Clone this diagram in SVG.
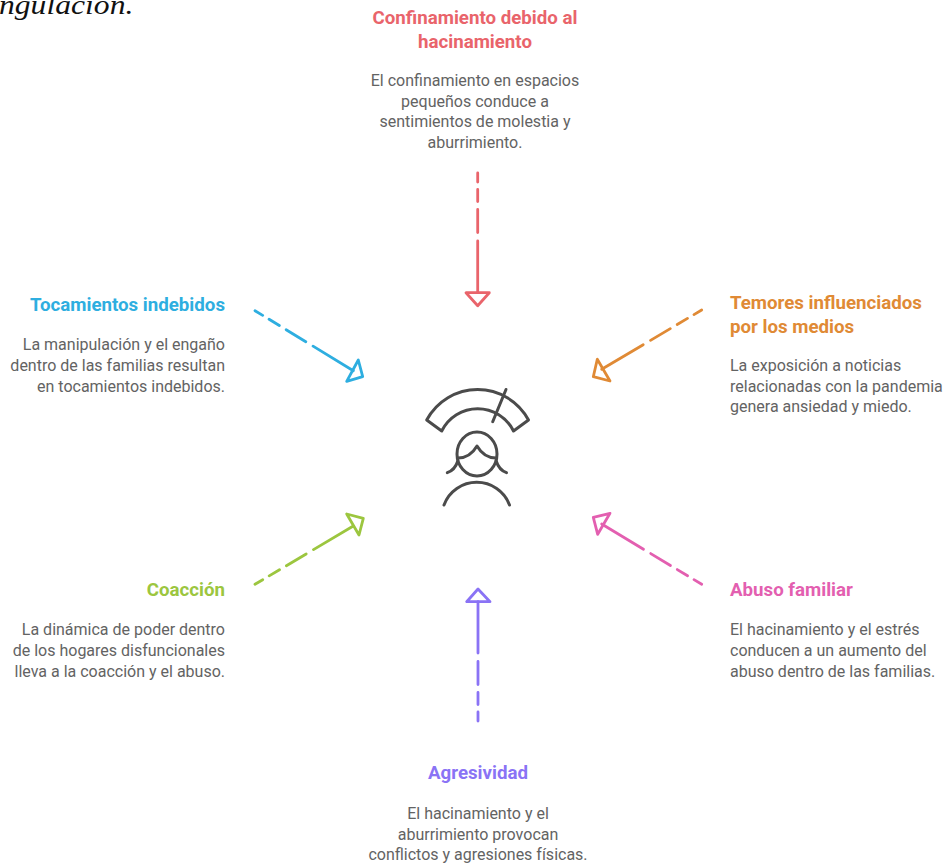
<svg xmlns="http://www.w3.org/2000/svg" width="943" height="864" viewBox="0 0 943 864">
<style>
text{font-family:Roboto,"Liberation Sans",sans-serif}
.t{font-size:18.7px;font-weight:700}
.b{font-size:16px;fill:#636363}
.m{text-anchor:middle}.e{text-anchor:end}
.c{fill:none;stroke-width:2.8;stroke-linecap:round;stroke-linejoin:round}
.d{stroke-dasharray:9 7.5 12 8 23 8.5 300}
.i{fill:none;stroke:#4b4b4b;stroke-width:3;stroke-linecap:round;stroke-linejoin:round}
</style>
<rect width="943" height="864" fill="#fff"/>
<text transform="translate(-1 14) scale(1.15 1)" x="0" y="0" style="font-family:'Liberation Serif',serif;font-style:italic;font-size:27.5px" fill="#111">ngulación.</text>
<g id="connectors">
<g stroke="#e9646b" class="c"><path class="d" d="M477.7 173V292.7"/><path d="M466 292.7H489.3L477.7 305.7Z"/></g>
<g stroke="#2eaee0" class="c"><path class="d" d="M255 310.7L353.3 370.7"/><path d="M358.3 360L362.7 376.7L346.7 381.3Z"/></g>
<g stroke="#e08a35" class="c"><path class="d" d="M701.7 310L601.7 369.3"/><path d="M597.3 359.3L593.3 376.7L610 381Z"/></g>
<g stroke="#9cc63f" class="c"><path class="d" d="M255 584.3L353.3 526"/><path d="M346.7 514L363.3 518.3L359 535Z"/></g>
<g stroke="#e35fb0" class="c"><path class="d" d="M701.7 584.3L601.7 524"/><path d="M610 513.3L593.3 517.3L597.7 534.3Z"/></g>
<g stroke="#8a73f5" class="c"><path class="d" d="M478 721V601.7"/><path d="M466.7 601.7H490L478 589Z"/></g>
</g>
<g id="icon" class="i">
<path d="M426.7 420A57.7 57.7 0 0 1 528.5 420L513.5 431A40 40 0 0 0 441.7 431Z"/>
<path d="M506 389.5L492.7 421.7"/>
<ellipse cx="477" cy="454" rx="20" ry="22"/>
<path d="M458 458Q470 458 477 446Q484 458 496 458"/>
<path d="M447.3 472.7Q455 470 457.8 461M506.5 472.7Q499 470 496.2 461"/>
<path d="M444 505A35 35 0 0 1 509.5 505"/>
</g>
<g id="n1"><text class="t m" x="475" y="24" fill="#e9646b">Confinamiento debido al</text><text class="t m" x="475" y="48" fill="#e9646b">hacinamiento</text>
<text class="b m" x="475" y="86">El confinamiento en espacios</text><text class="b m" x="475" y="107">pequeños conduce a</text><text class="b m" x="475" y="127">sentimientos de molestia y</text><text class="b m" x="475" y="148">aburrimiento.</text></g>
<g id="n2"><text class="t e" x="225" y="311" fill="#2eaee0">Tocamientos indebidos</text>
<text class="b e" x="225" y="350">La manipulación y el engaño</text><text class="b e" x="225" y="371">dentro de las familias resultan</text><text class="b e" x="225" y="392">en tocamientos indebidos.</text></g>
<g id="n3"><text class="t" x="730" y="309" fill="#e08a35">Temores influenciados</text><text class="t" x="730" y="333" fill="#e08a35">por los medios</text>
<text class="b" x="730" y="371">La exposición a noticias</text><text class="b" x="730" y="392">relacionadas con la pandemia</text><text class="b" x="730" y="412">genera ansiedad y miedo.</text></g>
<g id="n4"><text class="t e" x="225" y="596" fill="#9cc63f">Coacción</text>
<text class="b e" x="225" y="635">La dinámica de poder dentro</text><text class="b e" x="225" y="656">de los hogares disfuncionales</text><text class="b e" x="225" y="677">lleva a la coacción y el abuso.</text></g>
<g id="n5"><text class="t" x="730" y="596" fill="#e35fb0">Abuso familiar</text>
<text class="b" x="730" y="635">El hacinamiento y el estrés</text><text class="b" x="730" y="656">conducen a un aumento del</text><text class="b" x="730" y="677">abuso dentro de las familias.</text></g>
<g id="n6"><text class="t m" x="478" y="779" fill="#8a73f5">Agresividad</text>
<text class="b m" x="478" y="819">El hacinamiento y el</text><text class="b m" x="478" y="840">aburrimiento provocan</text><text class="b m" x="478" y="860">conflictos y agresiones físicas.</text></g>
</svg>
